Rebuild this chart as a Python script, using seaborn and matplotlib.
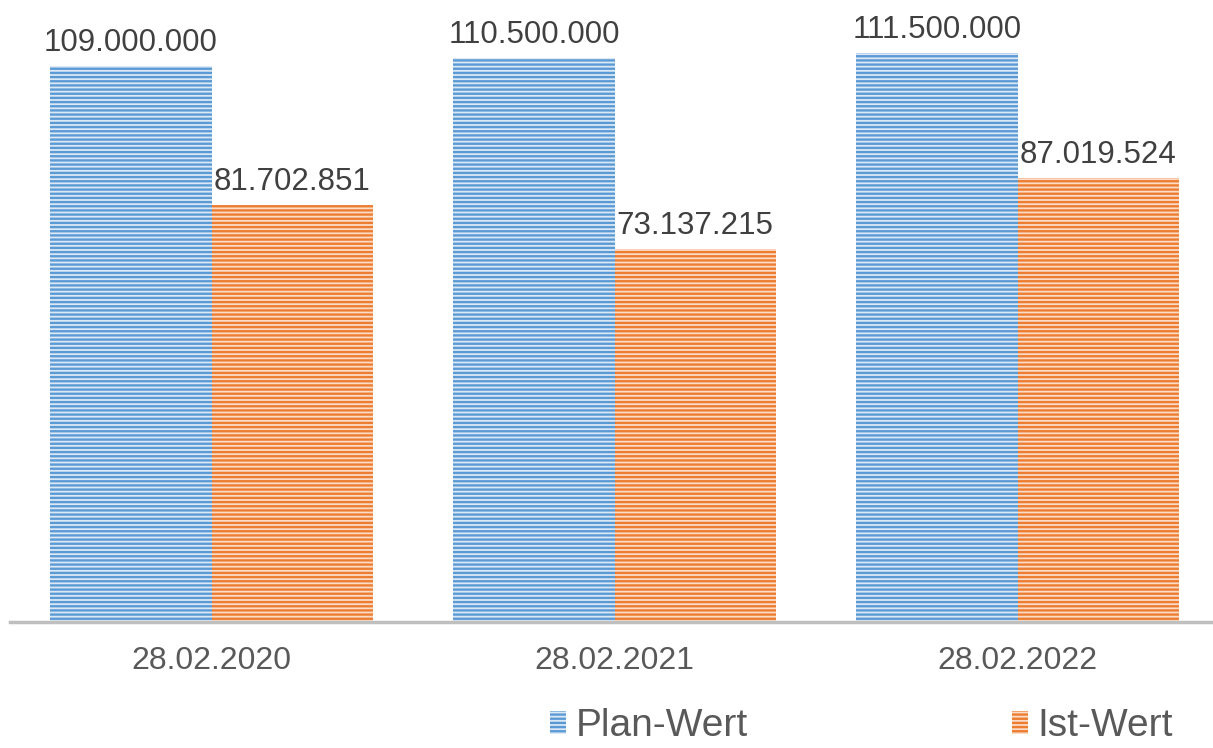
import pandas as pd
import seaborn as sns
import matplotlib.pyplot as plt

# Chart values
dates = ['28.02.2020', '28.02.2021', '28.02.2022']
series = ['Plan-Wert', 'Ist-Wert']
plan_values = [109000000, 110500000, 111500000]
ist_values = [81702851, 73137215, 87019524]

colors = {'Plan-Wert': '#5B9BD5', 'Ist-Wert': '#ED7D31'}
light = {'Plan-Wert': '#DCE8F5', 'Ist-Wert': '#FBDCC8'}

df = pd.DataFrame({
    'Datum': dates * 2,
    'Serie': [series[0]] * 3 + [series[1]] * 3,
    'Wert': plan_values + ist_values,
})

sns.set_style('white')
plt.rcParams['font.family'] = ['Liberation Sans', 'DejaVu Sans']
plt.rcParams['hatch.linewidth'] = 1.7

fig = plt.figure(figsize=(12.13, 7.48), dpi=100)
ax = fig.add_axes([10 / 1213, 1 - 622 / 748, 1 - 10 / 1213, 622 / 748])

sns.barplot(data=df, x='Datum', y='Wert', hue='Serie', order=dates,
            hue_order=series, palette=colors, width=0.8, ax=ax, legend=False)

def fmt_de(v):
    return f'{v:,}'.replace(',', '.')

for cont, name in zip(ax.containers, series):
    for bar in cont:
        bar.set_facecolor(light[name])
        bar.set_edgecolor(colors[name])
        bar.set_hatch('----')
        bar.set_linewidth(0)
    ax.bar_label(cont, labels=[fmt_de(int(b.get_height())) for b in cont],
                 padding=6, fontsize=22.5, color='#404040')

ax.set_xlim(-0.5, 2.485)
ax.set_ylim(0, 121.96e6)
ax.set_xlabel('')
ax.set_ylabel('')
ax.set_yticks([])
ax.tick_params(axis='x', length=0, pad=17, labelsize=23, labelcolor='#595959')
for s in ['top', 'left', 'right']:
    ax.spines[s].set_visible(False)
ax.spines['bottom'].set_color('#BFBFBF')
ax.spines['bottom'].set_linewidth(2.5)

handles = [ax.containers[i][0] for i in range(2)]
fig.legend(handles, series, loc='center left', bbox_to_anchor=(550 / 1213, 1 - 726 / 748),
           ncol=2, frameon=False, fontsize=28, labelcolor='#595959',
           handlelength=0.4, handleheight=0.55, handletextpad=0.25,
           columnspacing=6.8, borderpad=0, borderaxespad=0)

fig.savefig('out.png', dpi=100)
